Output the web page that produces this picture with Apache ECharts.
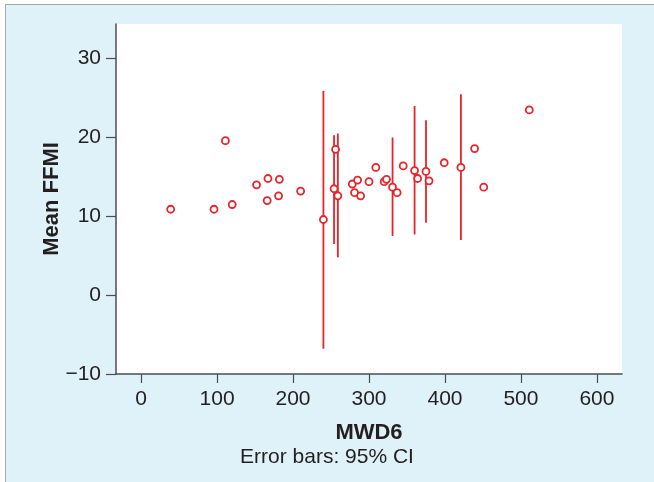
<!DOCTYPE html>
<html>
<head>
<meta charset="utf-8">
<title>Mean FFMI vs MWD6</title>
<script src="https://cdn.jsdelivr.net/npm/echarts@6/dist/echarts.min.js"></script>
<style>
	html, body { margin: 0; padding: 0; background: #fff; }
	#ffmiChart { width: 654px; height: 482px; }
</style>
</head>
<body>
<div id="ffmiChart"></div>
<script>
	'use strict';

	// group means (x = MWD6, y = mean FFMI)
	var mwd6 = [39, 96, 111, 120, 152, 166, 167, 181, 182, 210, 240, 254, 256, 259,
		278, 281, 285, 289, 300, 309, 320, 323, 331, 337, 345, 360, 364, 375, 379, 399, 421, 439, 451, 511];
	var meanFfmi = [10.9, 10.9, 19.6, 11.5, 14.0, 12.0, 14.8, 12.6, 14.7, 13.2, 9.6, 13.5, 18.5, 12.6,
		14.1, 13.0, 14.6, 12.6, 14.4, 16.2, 14.4, 14.7, 13.7, 13.0, 16.4, 15.8, 14.8, 15.7, 14.5, 16.8, 16.2, 18.6, 13.7, 23.5];

	// 95% CI bars, only the groups that have them
	var ciX = [240, 254, 259, 331, 360, 375, 421];
	var ciLow = [-6.8, 6.5, 4.8, 7.5, 7.7, 9.2, 7.0];
	var ciHigh = [25.9, 20.3, 20.5, 20.0, 24.0, 22.2, 25.5];

	var xTicks = [0, 100, 200, 300, 400, 500, 600];
	var yTicks = [-10, 0, 10, 20, 30];

	var red = '#e8232a';
	var ink = '#231f20';
	var axisGrey = '#4d4d4f';
	var font = '"Liberation Sans", Arial, sans-serif';

	var points = mwd6.map(function (x, i) { return [x, meanFfmi[i]]; });
	var bars = ciX.map(function (x, i) { return [x, ciLow[i], ciHigh[i]]; });

	var chart = echarts.init(document.getElementById('ffmiChart'), null, { renderer: 'canvas' });

	chart.setOption({
		animation: false,
		backgroundColor: '#fff',
		graphic: [
			{
				type: 'rect',
				z: -10,
				shape: { x: 5.5, y: 4.5, width: 660, height: 490 },
				style: { fill: '#dff1f9', stroke: '#a7a9ac', lineWidth: 1 },
				silent: true
			},
			{
				type: 'text',
				left: 'center',
				top: 447,
				style: {
					text: 'Error bars: 95% CI',
					fill: ink,
					font: '21px ' + font,
					textAlign: 'center'
				}
			}
		],
		grid: {
			left: 116,
			right: 32,
			top: 24,
			bottom: 108,
			show: true,
			backgroundColor: '#fff',
			borderWidth: 0
		},
		xAxis: {
			type: 'value',
			min: -33,
			max: 633,
			name: 'MWD6',
			nameLocation: 'middle',
			nameGap: 48,
			nameMoveOverlap: false,
			nameTextStyle: { color: ink, fontSize: 22, fontWeight: 'bold', fontFamily: font },
			axisLine: { onZero: false, lineStyle: { color: axisGrey, width: 1.5 } },
			axisTick: { show: true, length: 9, customValues: xTicks, lineStyle: { color: axisGrey, width: 1.2 } },
			axisLabel: { customValues: xTicks, margin: 15, color: ink, fontSize: 21, fontFamily: font },
			splitLine: { show: false }
		},
		yAxis: {
			type: 'value',
			min: -10,
			max: 34.4,
			name: 'Mean FFMI',
			nameLocation: 'middle',
			nameGap: 53,
			nameMoveOverlap: false,
			nameTextStyle: { color: ink, fontSize: 22, fontWeight: 'bold', fontFamily: font },
			axisLine: { show: true, onZero: false, lineStyle: { color: axisGrey, width: 1.5 } },
			axisTick: { show: true, length: 10, customValues: yTicks, lineStyle: { color: axisGrey, width: 1.2 } },
			axisLabel: {
				customValues: yTicks,
				margin: 15,
				color: ink,
				fontSize: 21,
				fontFamily: font,
				formatter: function (v) { return v < 0 ? '\u2212' + Math.abs(v) : String(v); }
			},
			splitLine: { show: false }
		},
		series: [
			{
				// CI whiskers, plain vertical lines
				type: 'custom',
				z: 1,
				data: bars,
				renderItem: function (params, api) {
					var lo = api.coord([api.value(0), api.value(1)]);
					var hi = api.coord([api.value(0), api.value(2)]);
					return {
						type: 'line',
						shape: { x1: lo[0], y1: lo[1], x2: hi[0], y2: hi[1] },
						style: { stroke: red, lineWidth: 1.8 }
					};
				}
			},
			{
				type: 'scatter',
				z: 2,
				data: points,
				symbol: 'circle',
				symbolSize: 7,
				itemStyle: { color: '#fff', borderColor: red, borderWidth: 1.8, opacity: 1 }
			}
		]
	});
</script>
</body>
</html>
